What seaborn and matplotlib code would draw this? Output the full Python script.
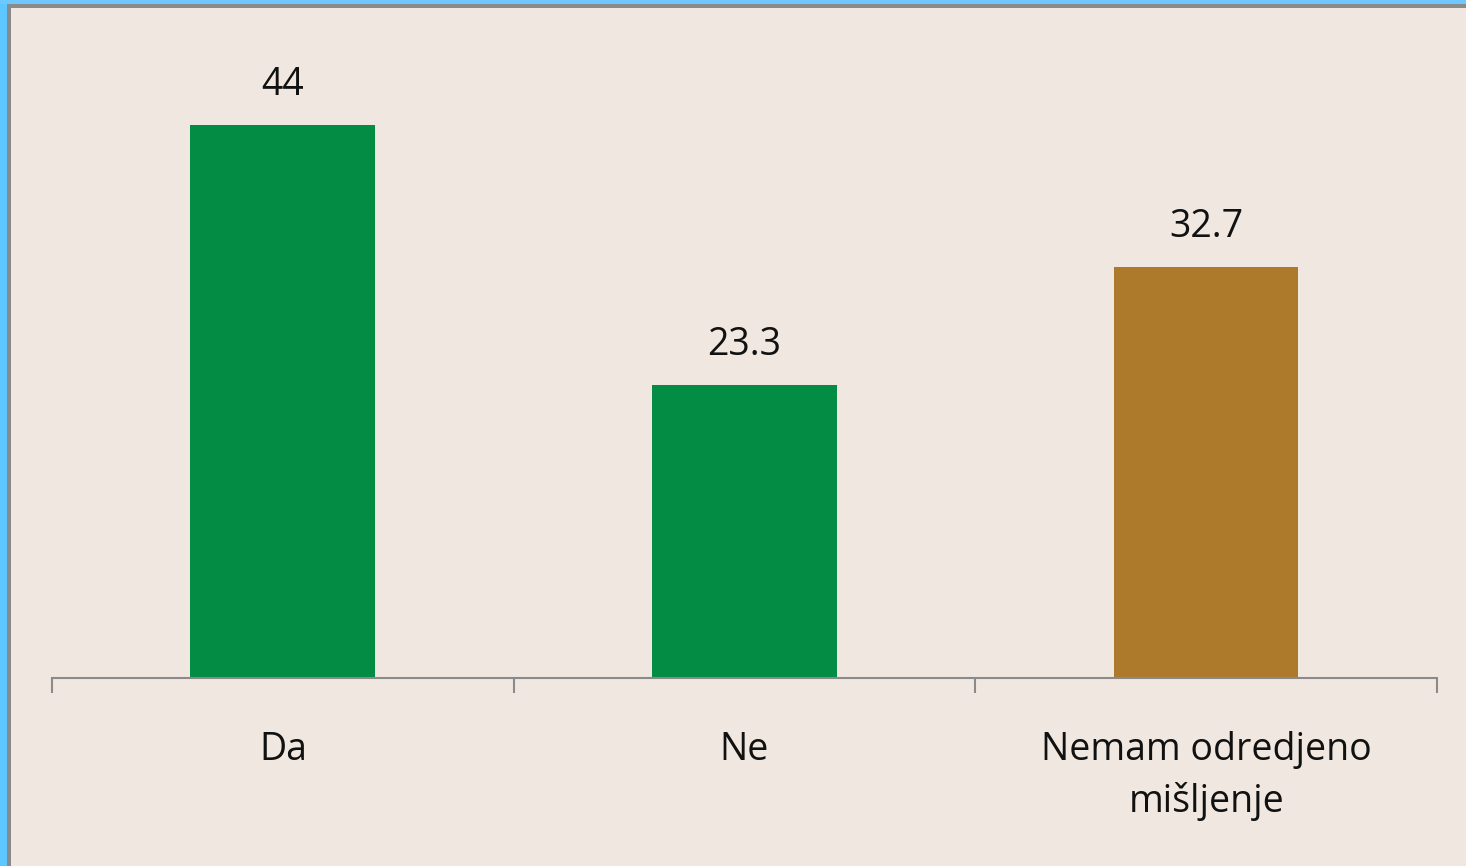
import matplotlib
matplotlib.use('Agg')
import matplotlib.pyplot as plt
import matplotlib.patches as mpatches
import seaborn as sns
import pandas as pd

# data
categories = ['Da', 'Ne', 'Nemam odredjeno\nmišljenje']
values = [44, 23.3, 32.7]
value_labels = ['44', '23.3', '32.7']
bar_colors = ['#038C44', '#038C44', '#AD792B']

bg = '#F0E8E0'
W, H = 1466, 866

sns.set_theme(style='white')
plt.rcParams['font.family'] = ['Open Sans', 'DejaVu Sans']

df = pd.DataFrame({'cat': categories, 'val': values})

fig = plt.figure(figsize=(W / 100, H / 100), dpi=100, facecolor=bg)
ax = fig.add_axes([52 / W, 188 / H, (1437 - 52) / W, 628.6 / H])
ax.set_facecolor(bg)

sns.barplot(data=df, x='cat', y='val', hue='cat', palette=bar_colors,
            width=0.4, legend=False, ax=ax, saturation=1, linewidth=0)

ax.set_xlim(-0.5, 2.5)
ax.set_ylim(0, 50)
ax.set_xlabel('')
ax.set_ylabel('')
ax.set_yticks([])

for c, lab in zip(ax.containers, value_labels):
    ax.bar_label(c, labels=[lab], padding=15, fontsize=27, color='#111111')

# boundary ticks and centred labels
ax.set_xticks([-0.5, 0.5, 1.5, 2.5])
ax.set_xticklabels([])
ax.tick_params(axis='x', which='major', length=11, width=1.5, color='#8A8A8A',
               direction='out', bottom=True)
ax.set_xticks([0, 1, 2], minor=True)
ax.set_xticklabels(categories, minor=True, fontsize=27, color='#111111',
                   linespacing=1.45)
ax.tick_params(axis='x', which='minor', length=0, pad=38)

for s in ['top', 'right', 'left']:
    ax.spines[s].set_visible(False)
ax.spines['bottom'].set_color('#8A8A8A')
ax.spines['bottom'].set_linewidth(1.5)

# frame: light blue strip with grey line, as in the reference
fig.patches.append(mpatches.Rectangle((0, 0), 7 / W, 1, transform=fig.transFigure,
                                      facecolor='#5CC8FF', linewidth=0, zorder=0))
fig.patches.append(mpatches.Rectangle((0, 1 - 4 / H), 1, 4 / H, transform=fig.transFigure,
                                      facecolor='#6CC8FF', linewidth=0, zorder=0))
fig.patches.append(mpatches.Rectangle((7 / W, 0), 4 / W, 1 - 4 / H, transform=fig.transFigure,
                                      facecolor='#8A8A8A', linewidth=0, zorder=1))
fig.patches.append(mpatches.Rectangle((7 / W, 1 - 8 / H), 1, 4 / H, transform=fig.transFigure,
                                      facecolor='#8A8A8A', linewidth=0, zorder=1))

fig.savefig('out.png', dpi=100, facecolor=bg)
